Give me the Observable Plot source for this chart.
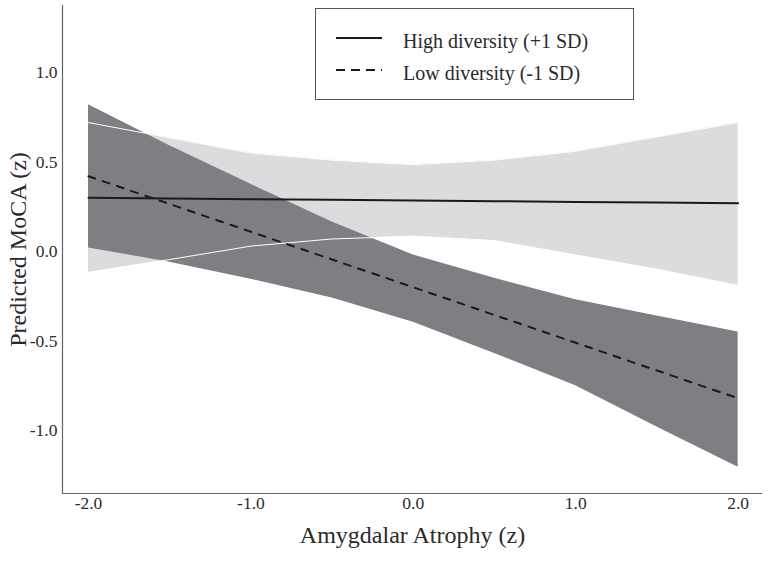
<!DOCTYPE html>
<html>
<head>
<meta charset="utf-8">
<script src="https://cdn.jsdelivr.net/npm/d3@7"></script>
<script src="https://cdn.jsdelivr.net/npm/@observablehq/plot@0.6"></script>
<style>
  html, body { margin: 0; padding: 0; background: white; }
  #wrap { position: relative; width: 768px; height: 561px; font-family: "Liberation Serif", "Times New Roman", serif; }
  #legend { position: absolute; left: 315px; top: 8px; }
</style>
</head>
<body>
<div id="wrap"></div>
<script>
// ---- data ----
const xs       = [-2, -1.5, -1, -0.5, 0, 0.5, 1, 1.5, 2];
const hiFit    = [0.30, 0.296, 0.292, 0.289, 0.285, 0.281, 0.277, 0.274, 0.27];
const hiUpper  = [0.72, 0.635, 0.55, 0.51, 0.485, 0.51, 0.56, 0.64, 0.72];
const hiLower  = [-0.117, -0.045, 0.03, 0.07, 0.085, 0.06, -0.02, -0.10, -0.19];
const loFit    = [0.42, 0.265, 0.11, -0.045, -0.20, -0.355, -0.51, -0.665, -0.82];
const loUpper  = [0.82, 0.59, 0.375, 0.165, -0.02, -0.15, -0.27, -0.36, -0.45];
const loLower  = [0.02, -0.06, -0.155, -0.26, -0.395, -0.57, -0.75, -0.98, -1.205];

const xTicks = [-2, -1, 0, 1, 2];
const yTicks = [-1, -0.5, 0, 0.5, 1];
const seriesNames = ["High diversity (+1 SD)", "Low diversity (-1 SD)"];
const xTitle = "Amygdalar Atrophy (z)";
const yTitle = "Predicted MoCA (z)";

const rows = xs.map((x, i) => ({
  x, hiFit: hiFit[i], hiUpper: hiUpper[i], hiLower: hiLower[i],
  loFit: loFit[i], loUpper: loUpper[i], loLower: loLower[i]
}));

const xDomain = [-2.16, 2.15];
const yDomain = [-1.352, 1.374];
const fmt = d => d.toFixed(1);
const font = "Liberation Serif";

const chart = Plot.plot({
  width: 768, height: 561,
  marginTop: 5, marginBottom: 68, marginLeft: 62, marginRight: 6,
  x: { domain: xDomain },
  y: { domain: yDomain },
  style: { fontFamily: font, fontSize: "17.5px", background: "white", color: "#2a2a2a" },
  marks: [
    Plot.areaY(rows, { x: "x", y1: "hiLower", y2: "hiUpper", fill: "#dcdcdf" }),
    Plot.areaY(rows, { x: "x", y1: "loLower", y2: "loUpper", fill: "#7e7f83" }),
    Plot.line(rows, { x: "x", y: "hiUpper", stroke: "white", strokeWidth: 1 }),
    Plot.line(rows, { x: "x", y: "hiLower", stroke: "white", strokeWidth: 1 }),
    Plot.line(rows, { x: "x", y: "hiFit", stroke: "#1a1a1a", strokeWidth: 2 }),
    Plot.line(rows, { x: "x", y: "loFit", stroke: "#1a1a1a", strokeWidth: 2, strokeDasharray: "7,8" }),
    Plot.ruleX([xDomain[0]], { stroke: "#666", strokeWidth: 1.2 }),
    Plot.ruleY([yDomain[0]], { stroke: "#666", strokeWidth: 1.2 }),
    Plot.axisX({ ticks: xTicks, tickSize: 0, tickPadding: 3.5, tickFormat: fmt, label: null, fontSize: 17.5 }),
    Plot.axisY({ ticks: yTicks, tickSize: 0, tickPadding: 5, tickFormat: fmt, label: null, fontSize: 17.5 }),
    Plot.text([xTitle], { text: d => d, frameAnchor: "bottom", lineAnchor: "middle", dy: 42, fontSize: 24, fontFamily: font, fill: "#2a2a2a" }),
    Plot.text([yTitle], { text: d => d, frameAnchor: "left", textAnchor: "middle", lineAnchor: "middle", dx: -44, rotate: -90, fontSize: 24, fontFamily: font, fill: "#2a2a2a" })
  ]
});
document.getElementById("wrap").appendChild(chart);

// ---- legend ----
const lg = d3.select("#wrap").append("svg")
  .attr("id", "legend").attr("width", 320).attr("height", 93);
lg.append("rect").attr("x", 0.5).attr("y", 0.5).attr("width", 318).attr("height", 91)
  .attr("fill", "white").attr("stroke", "#555").attr("stroke-width", 1);
const legendRows = [
  { name: seriesNames[0], dash: null, y: 30 },
  { name: seriesNames[1], dash: "9,6", y: 62 }
];
legendRows.forEach(r => {
  lg.append("line").attr("x1", 21).attr("x2", 67).attr("y1", r.y).attr("y2", r.y)
    .attr("stroke", "#1a1a1a").attr("stroke-width", 2)
    .attr("stroke-dasharray", r.dash);
  lg.append("text").attr("x", 88).attr("y", r.y + 10)
    .attr("font-family", font).attr("font-size", 20).attr("fill", "#2a2a2a")
    .text(r.name);
});
</script>
</body>
</html>
